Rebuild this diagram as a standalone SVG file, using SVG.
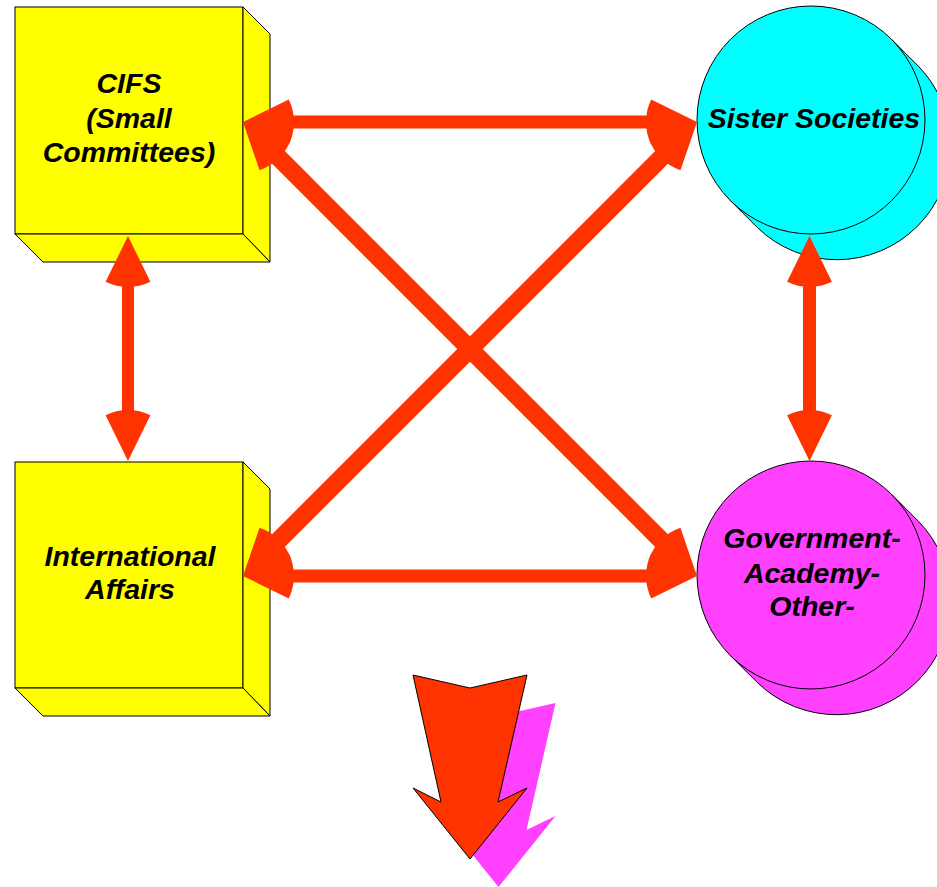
<svg xmlns="http://www.w3.org/2000/svg" xmlns:xlink="http://www.w3.org/1999/xlink" width="937" height="887" viewBox="0 0 937 887">
  <defs>
    <style>
      .box { fill: #FFFF00; stroke: #000; stroke-width: 1; stroke-linejoin: miter; }
      .cyan { fill: #00FFFF; stroke: #000; stroke-width: 1; }
      .mag { fill: #FF40FF; stroke: #000; stroke-width: 1; }
      .lbl { font-family: "Liberation Sans", Arial, sans-serif; font-weight: bold; font-style: italic; font-size: 28.5px; fill: #000; text-anchor: middle; }
      .shaft { stroke: #FF3300; fill: none; stroke-linecap: butt; }
      .head { fill: #FF3300; stroke: none; }
    </style>
    <path id="head" d="M0,0 L45.8,-22.4 A51,51 0 0 1 45.8,22.4 Z"/>
  </defs>
  <rect width="937" height="887" fill="#fff"/>

  <g id="cifs">
    <rect class="box" x="15" y="7" width="228" height="227"/>
    <polygon class="box" points="243,7 270,34 270,262 243,234"/>
    <polygon class="box" points="15,234 243,234 270,262 43,262"/>
    <text class="lbl" x="129" y="93">CIFS</text>
    <text class="lbl" x="129" y="128">(Small</text>
    <text class="lbl" x="129" y="162">Committees)</text>
  </g>

  <g id="international">
    <rect class="box" x="15" y="462" width="228" height="226"/>
    <polygon class="box" points="243,462 270,489 270,716 243,688"/>
    <polygon class="box" points="15,688 243,688 270,716 43,716"/>
    <text class="lbl" x="130" y="566">International</text>
    <text class="lbl" x="130" y="599">Affairs</text>
  </g>

  <g id="sister">
    <path class="cyan" d="M891.6,39.4 L918.6,66.4 A114,114 0 0 1 757.4,227.6 L730.4,200.6 A114,114 0 0 0 891.6,39.4 Z"/>
    <circle class="cyan" cx="811" cy="120" r="114"/>
    <text class="lbl" x="814" y="128">Sister Societies</text>
  </g>

  <g id="government">
    <path class="mag" d="M891.6,494.4 L918.6,521.4 A114,114 0 0 1 757.4,682.6 L730.4,655.6 A114,114 0 0 0 891.6,494.4 Z"/>
    <circle class="mag" cx="811" cy="575" r="114"/>
    <text class="lbl" x="812" y="548">Government-</text>
    <text class="lbl" x="812" y="583">Academy-</text>
    <text class="lbl" x="812" y="616">Other-</text>
  </g>

  <g id="connectors">
    <line class="shaft" stroke-width="13" x1="270" y1="122" x2="670" y2="122"/>
    <line class="shaft" stroke-width="13" x1="270" y1="576" x2="670" y2="576"/>
    <line class="shaft" stroke-width="12" x1="128" y1="263" x2="128" y2="434"/>
    <line class="shaft" stroke-width="13" x1="809.5" y1="263" x2="809.5" y2="434"/>
    <line class="shaft" stroke-width="18" x1="264.2" y1="143.2" x2="675.8" y2="554.8"/>
    <line class="shaft" stroke-width="18" x1="264.2" y1="554.8" x2="675.8" y2="143.2"/>
    <use xlink:href="#head" class="head" transform="translate(243,122) rotate(0)"/>
    <use xlink:href="#head" class="head" transform="translate(697,122) rotate(180)"/>
    <use xlink:href="#head" class="head" transform="translate(243,576) rotate(0)"/>
    <use xlink:href="#head" class="head" transform="translate(697,576) rotate(180)"/>
    <use xlink:href="#head" class="head" transform="translate(128,236) rotate(90)"/>
    <use xlink:href="#head" class="head" transform="translate(128,461) rotate(-90)"/>
    <use xlink:href="#head" class="head" transform="translate(809.5,236) rotate(90)"/>
    <use xlink:href="#head" class="head" transform="translate(809.5,461) rotate(-90)"/>
    <use xlink:href="#head" class="head" transform="translate(243,122) rotate(45)"/>
    <use xlink:href="#head" class="head" transform="translate(697,576) rotate(-135)"/>
    <use xlink:href="#head" class="head" transform="translate(243,576) rotate(-45)"/>
    <use xlink:href="#head" class="head" transform="translate(697,122) rotate(135)"/>
  </g>

  <g id="down-arrow">
    <polygon fill="#FF40FF" transform="translate(28.5,28)" points="413,675 470,688 527,675 498,802 527,788 470,859 413,788 441,802"/>
    <polygon fill="#FF3300" stroke="#000" stroke-width="1" points="413,675 470,688 527,675 498,802 527,788 470,859 413,788 441,802"/>
  </g>
</svg>
